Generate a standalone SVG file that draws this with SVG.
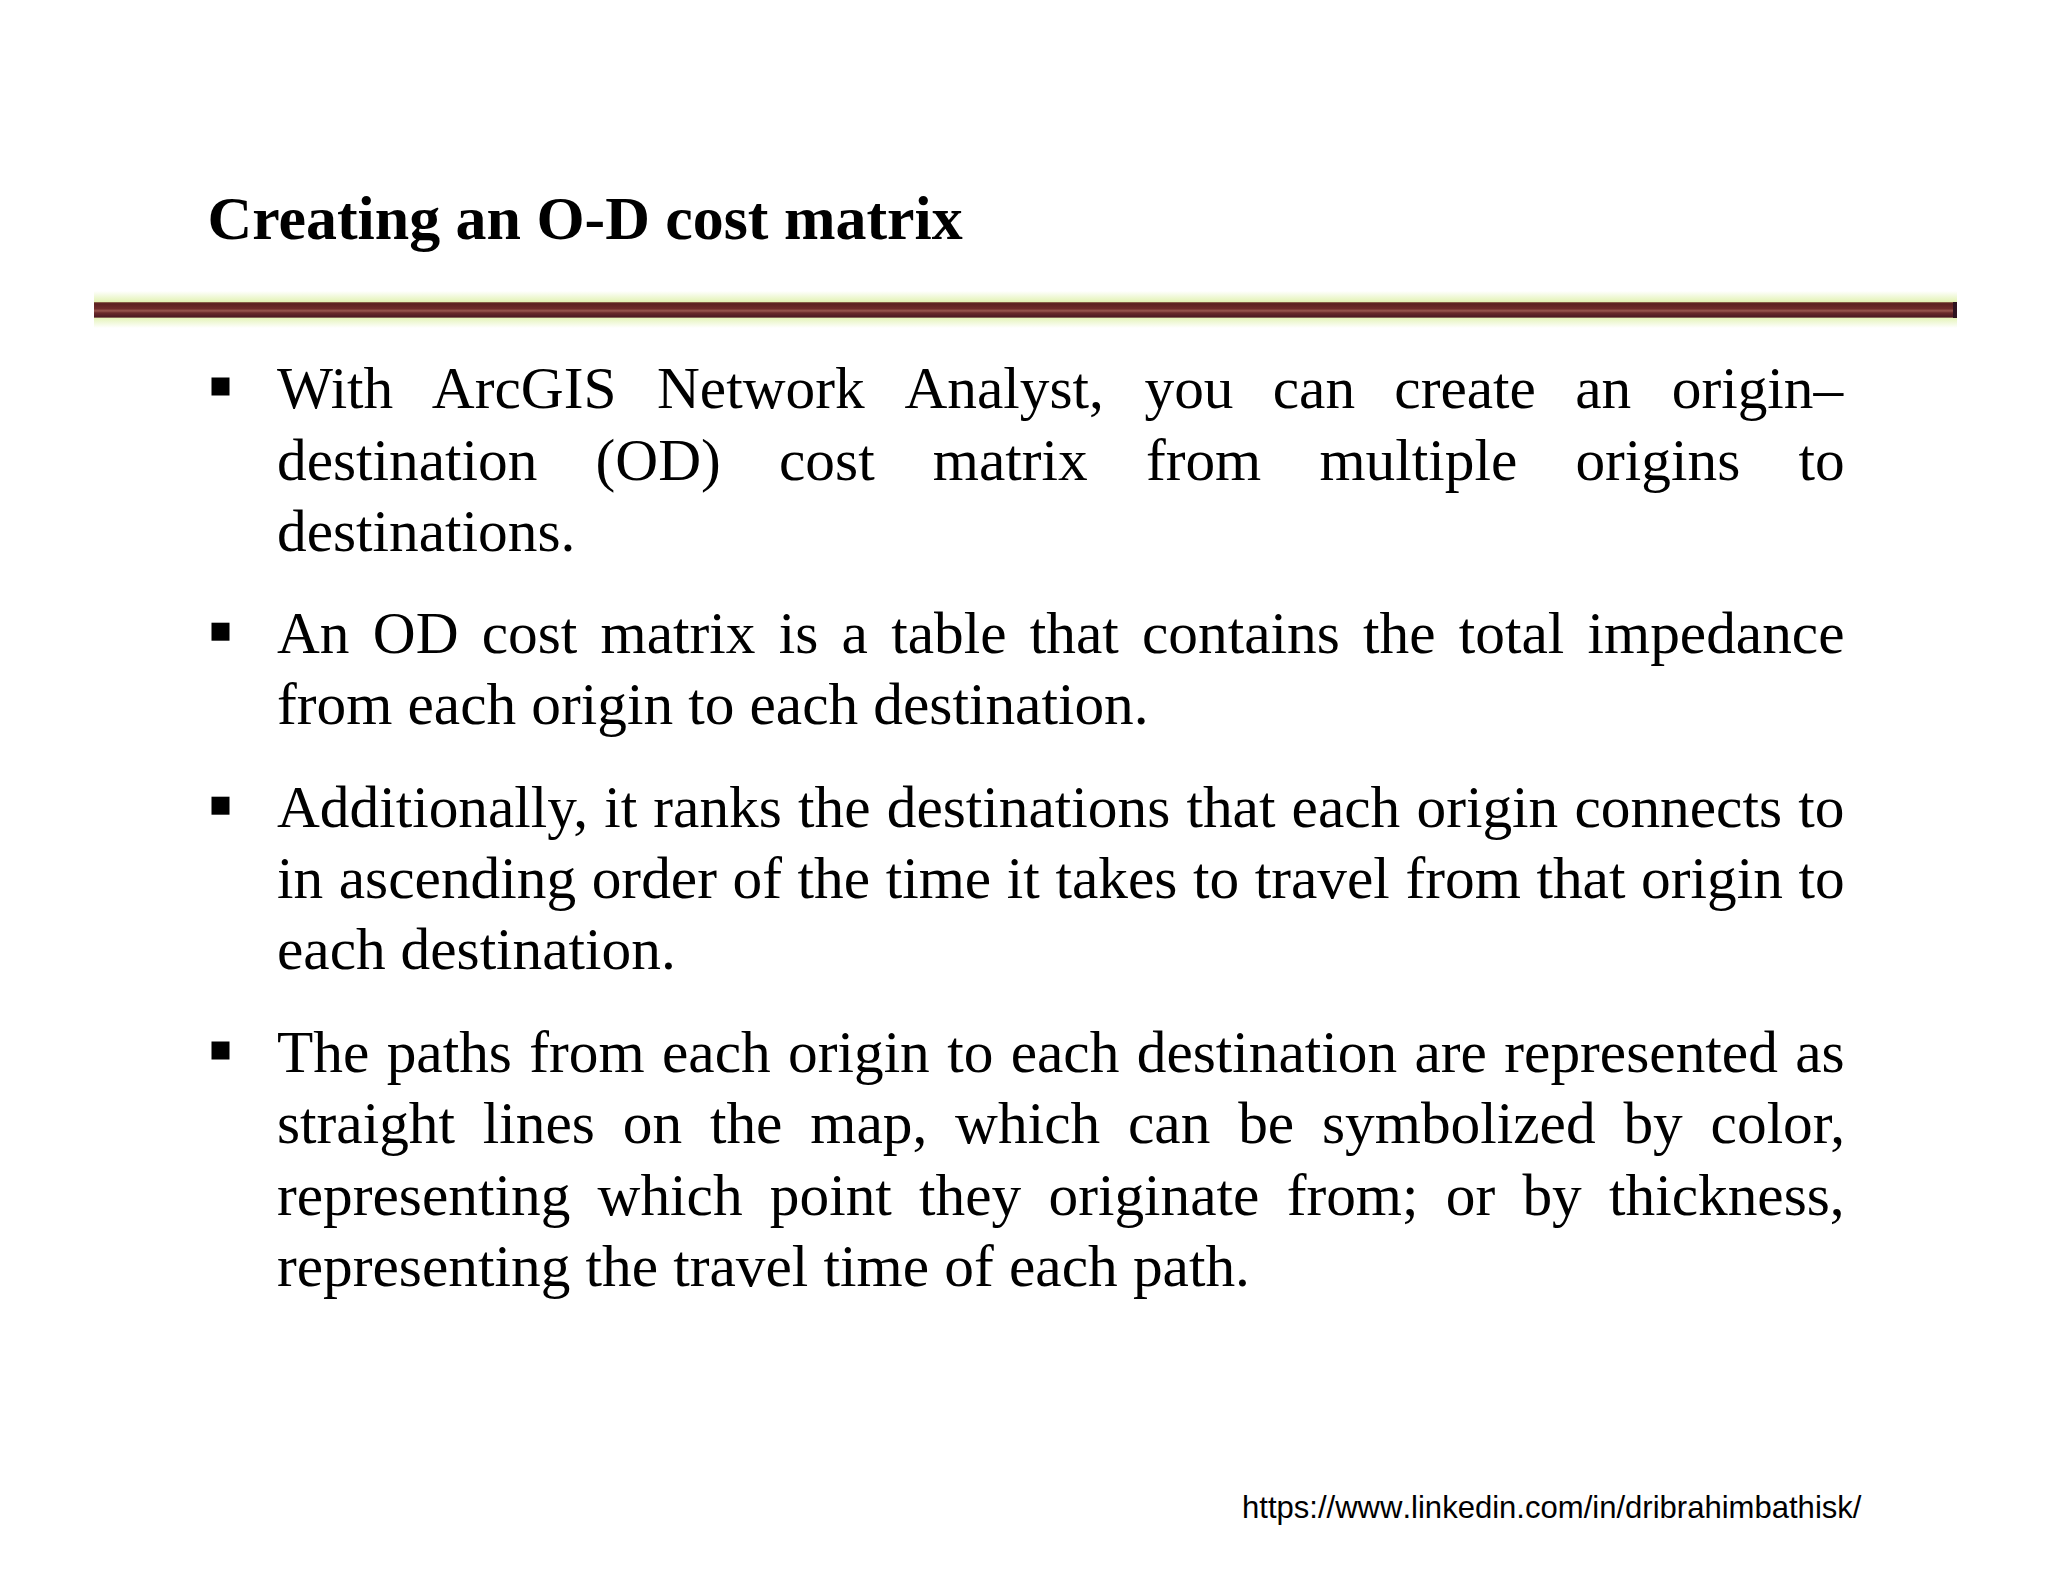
<svg xmlns="http://www.w3.org/2000/svg" width="2048" height="1582" viewBox="0 0 2048 1582">
<style>
.t{font-family:"Liberation Serif","Times New Roman",serif;font-size:61.9px;font-weight:700;fill:#000}
.b{font-family:"Liberation Serif","Times New Roman",serif;font-size:59.35px;fill:#000}
.l{font-family:"Liberation Sans",Arial,sans-serif;font-size:31.05px;font-kerning:none;fill:#000}
.s{fill:#000}
</style>
<defs>
<linearGradient id="bar" x1="0" y1="0" x2="0" y2="1">
<stop offset="0" stop-color="#9a7a58"/>
<stop offset="0.1" stop-color="#5c2020"/>
<stop offset="0.42" stop-color="#6e2c2a"/>
<stop offset="0.55" stop-color="#98564e"/>
<stop offset="0.68" stop-color="#6a2a2a"/>
<stop offset="0.92" stop-color="#4e1a22"/>
<stop offset="1" stop-color="#a89878"/>
</linearGradient>
<linearGradient id="glow" x1="0" y1="0" x2="0" y2="1">
<stop offset="0" stop-color="#ffffff"/>
<stop offset="0.28" stop-color="#e4f3b8"/>
<stop offset="0.72" stop-color="#e4f3b8"/>
<stop offset="1" stop-color="#ffffff"/>
</linearGradient>
</defs>
<rect width="2048" height="1582" fill="#fff"/>
<text class="t" x="207.500" y="239">Creating an O-D cost matrix</text>
<g id="rule">
<rect x="94" y="291" width="1863" height="37" fill="url(#glow)"/>
<rect x="94" y="302" width="1863" height="16" fill="url(#bar)"/>
<rect x="1953" y="302" width="4" height="16" fill="#2e1420"/>
</g>
<g id="bullet1">
<rect class="s" x="211.500" y="377.500" width="18" height="18"/>
<text class="b" x="277" y="408" word-spacing="25.700">With <tspan dx="1.300">ArcGIS</tspan> Network <tspan dx="2.600">Analyst,</tspan> you <tspan dx="-1.300">can</tspan> <tspan dx="-1.300">create</tspan> <tspan dx="-1.300">an</tspan> origin–</text>
<text class="b" x="277" y="479.500" word-spacing="43.350">destination (OD) cost matrix from multiple origins to</text>
<text class="b" x="277" y="551">destinations.</text>
</g>
<g id="bullet2">
<rect class="s" x="211.500" y="622.700" width="18" height="18"/>
<text class="b" x="277" y="652.700" word-spacing="8.420">An OD cost matrix is a table that contains the total impedance</text>
<text class="b" x="277" y="724" word-spacing="0.300">from each origin to each destination.</text>
</g>
<g id="bullet3">
<rect class="s" x="211.500" y="796.700" width="18" height="18"/>
<text class="b" x="277" y="826.700" word-spacing="1.350">Additionally, it ranks the destinations that each origin connects to</text>
<text class="b" x="277" y="898" word-spacing="0.790">in ascending order of the time it takes to travel from that origin to</text>
<text class="b" x="277" y="969">each destination.</text>
</g>
<g id="bullet4">
<rect class="s" x="211.500" y="1041.500" width="18" height="18"/>
<text class="b" x="277" y="1071.700" word-spacing="2.530">The paths from each origin to each destination are represented as</text>
<text class="b" x="277" y="1143" word-spacing="13">straight lines on the map, which can be symbolized by color,</text>
<text class="b" x="277" y="1214.500" word-spacing="12.410">representing which point they originate from; or by thickness,</text>
<text class="b" x="277" y="1286" word-spacing="0.400">representing the travel time of each path.</text>
</g>
<text class="l" x="1242" y="1518">https://www.linkedin.com/in/dribrahimbathisk/</text>
</svg>
